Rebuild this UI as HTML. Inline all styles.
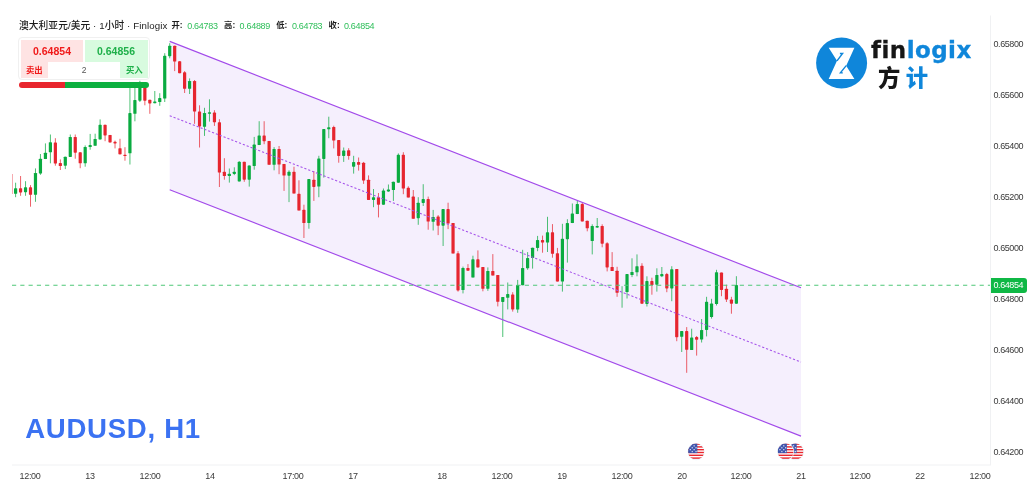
<!DOCTYPE html>
<html><head><meta charset="utf-8"><title>AUDUSD H1</title>
<style>
html,body{margin:0;padding:0;background:#fff;}
body{width:1032px;height:499px;position:relative;overflow:hidden;font-family:"Liberation Sans","Noto Sans CJK SC",sans-serif;}
#chart{position:absolute;left:0;top:0}
.yl{position:absolute;left:993.5px;font-size:9px;line-height:13px;height:13px;color:#3a3a3a;letter-spacing:-0.42px;white-space:nowrap}
.xl{position:absolute;top:469.8px;width:40px;text-align:center;font-size:9px;line-height:13px;color:#3a3a3a;letter-spacing:-0.35px;white-space:nowrap}
.lg{position:absolute;top:19.1px;font-size:9.7px;line-height:13px;color:#1c1c1c;font-weight:500;white-space:nowrap;letter-spacing:0.1px}
.lg.k{font-size:8.3px;top:19.4px;letter-spacing:0;font-weight:bold}
.lg.v{font-weight:normal;color:#2fbf5a;font-size:9px;letter-spacing:-0.3px;top:19.5px}
#tag{position:absolute;left:990.5px;top:277.7px;width:36px;height:15.3px;background:#0fb845;border-radius:0 3px 3px 0;color:#fff;font-size:9px;line-height:15.3px;letter-spacing:-0.42px;text-indent:3px;white-space:nowrap}
#title{position:absolute;left:25.2px;top:412.5px;font-size:27.6px;line-height:32px;font-weight:bold;color:#3b72f2;white-space:nowrap;letter-spacing:0.7px}
#wd{position:absolute;left:18px;top:37px;width:130px;height:41px;border:1px solid #f0f0f0;border-radius:4px;background:#fff;box-sizing:content-box}
#wd .s{position:absolute;left:2px;top:2px;width:62.3px;height:38px;background:#fee3e3}
#wd .b{position:absolute;left:65.7px;top:2px;width:63.3px;height:38px;background:#d8fbdf}
#wd .q{position:absolute;left:29px;top:24px;width:72px;height:16px;background:#fff;text-align:center;font-size:8.5px;line-height:16px;color:#555}
#wd .ps{position:absolute;left:1.5px;top:6.3px;width:63px;text-align:center;font-size:10.5px;font-weight:bold;color:#f01a1a;line-height:14px}
#wd .pb{position:absolute;left:65.5px;top:6.3px;width:63px;text-align:center;font-size:10.5px;font-weight:bold;color:#1fb04a;line-height:14px}
#wd .ls{position:absolute;left:7px;top:26px;font-size:8.4px;font-weight:bold;color:#f01a1a;line-height:13px}
#wd .lb{position:absolute;left:107px;top:26px;font-size:8.4px;font-weight:bold;color:#1fb04a;line-height:13px}
#bar{position:absolute;left:19px;top:82.2px;width:130px;height:5.6px;border-radius:3px;background:linear-gradient(to right,#e8262e 0,#e8262e 46px,#0cb03f 46px);}
#logo-t{position:absolute;left:871px;top:35.3px;font-family:"DejaVu Sans","Liberation Sans",sans-serif;font-weight:bold;font-size:23px;line-height:30px;letter-spacing:0.45px;-webkit-text-stroke:0.3px currentColor;white-space:nowrap;color:#161616}
#logo-t b{color:#0f86da;font-weight:bold}
#logo-c{position:absolute;left:878px;top:60.3px;font-family:"Noto Sans CJK SC","Liberation Sans",sans-serif;font-weight:900;font-size:22.3px;line-height:32px;white-space:nowrap;color:#161616;letter-spacing:5.5px}
#logo-c b{color:#0f86da;font-weight:900}
</style></head><body>
<svg id="chart" width="1032" height="499" viewBox="0 0 1032 499">
<polygon points="169.7,41.4 801.0,287.80 801.0,436.10 169.7,189.7" fill="#f5effd"/>
<rect x="12" y="174" width="0.7" height="20" fill="#e6252f" opacity="0.55"/>
<rect x="15.10" y="182.7" width="1" height="14.5" fill="#0aab40" opacity="0.72"/>
<rect x="20.07" y="176.0" width="1" height="19.8" fill="#e6252f" opacity="0.72"/>
<rect x="25.04" y="181.2" width="1" height="14.6" fill="#0aab40" opacity="0.72"/>
<rect x="30.01" y="185.1" width="1" height="21.6" fill="#e6252f" opacity="0.72"/>
<rect x="34.98" y="168.4" width="1" height="33.4" fill="#0aab40" opacity="0.72"/>
<rect x="39.95" y="154.0" width="1" height="20.8" fill="#0aab40" opacity="0.72"/>
<rect x="44.93" y="143.4" width="1" height="15.7" fill="#0aab40" opacity="0.72"/>
<rect x="49.90" y="134.5" width="1" height="28.8" fill="#0aab40" opacity="0.72"/>
<rect x="54.87" y="138.2" width="1" height="27.5" fill="#e6252f" opacity="0.72"/>
<rect x="59.84" y="159.4" width="1" height="10.6" fill="#e6252f" opacity="0.72"/>
<rect x="64.81" y="156.7" width="1" height="12.4" fill="#0aab40" opacity="0.72"/>
<rect x="69.78" y="134.5" width="1" height="22.4" fill="#0aab40" opacity="0.72"/>
<rect x="74.75" y="134.5" width="1" height="24.2" fill="#e6252f" opacity="0.72"/>
<rect x="79.72" y="152.3" width="1" height="15.9" fill="#e6252f" opacity="0.72"/>
<rect x="84.69" y="145.4" width="1" height="21.3" fill="#0aab40" opacity="0.72"/>
<rect x="89.66" y="133.9" width="1" height="15.8" fill="#0aab40" opacity="0.72"/>
<rect x="94.64" y="133.7" width="1" height="12.1" fill="#0aab40" opacity="0.72"/>
<rect x="99.61" y="119.4" width="1" height="20.0" fill="#0aab40" opacity="0.72"/>
<rect x="104.58" y="124.8" width="1" height="16.4" fill="#e6252f" opacity="0.72"/>
<rect x="109.55" y="134.9" width="1" height="7.5" fill="#e6252f" opacity="0.72"/>
<rect x="114.52" y="140.6" width="1" height="7.8" fill="#e6252f" opacity="0.72"/>
<rect x="119.49" y="138.8" width="1" height="15.8" fill="#e6252f" opacity="0.72"/>
<rect x="124.46" y="147.2" width="1" height="13.5" fill="#e6252f" opacity="0.72"/>
<rect x="129.43" y="86.0" width="1" height="78.5" fill="#0aab40" opacity="0.72"/>
<rect x="134.40" y="86.0" width="1" height="35.3" fill="#0aab40" opacity="0.72"/>
<rect x="139.38" y="80.8" width="1" height="21.2" fill="#0aab40" opacity="0.72"/>
<rect x="144.35" y="86.0" width="1" height="19.3" fill="#e6252f" opacity="0.72"/>
<rect x="149.32" y="99.8" width="1" height="14.0" fill="#e6252f" opacity="0.72"/>
<rect x="154.29" y="91.0" width="1" height="12.2" fill="#0aab40" opacity="0.72"/>
<rect x="159.26" y="93.2" width="1" height="12.6" fill="#0aab40" opacity="0.72"/>
<rect x="164.23" y="53.2" width="1" height="48.8" fill="#0aab40" opacity="0.72"/>
<rect x="169.20" y="43.2" width="1" height="15.1" fill="#0aab40" opacity="0.72"/>
<rect x="174.17" y="45.7" width="1" height="25.4" fill="#e6252f" opacity="0.72"/>
<rect x="179.14" y="61.0" width="1" height="12.2" fill="#e6252f" opacity="0.72"/>
<rect x="184.11" y="71.1" width="1" height="21.9" fill="#e6252f" opacity="0.72"/>
<rect x="189.09" y="78.4" width="1" height="15.6" fill="#0aab40" opacity="0.72"/>
<rect x="194.06" y="80.0" width="1" height="43.8" fill="#e6252f" opacity="0.72"/>
<rect x="199.03" y="105.3" width="1" height="42.2" fill="#e6252f" opacity="0.72"/>
<rect x="204.00" y="107.8" width="1" height="28.1" fill="#0aab40" opacity="0.72"/>
<rect x="208.97" y="99.3" width="1" height="22.3" fill="#0aab40" opacity="0.72"/>
<rect x="213.94" y="110.2" width="1" height="15.7" fill="#e6252f" opacity="0.72"/>
<rect x="218.91" y="119.2" width="1" height="67.8" fill="#e6252f" opacity="0.72"/>
<rect x="223.88" y="158.2" width="1" height="21.5" fill="#e6252f" opacity="0.72"/>
<rect x="228.85" y="168.5" width="1" height="14.1" fill="#0aab40" opacity="0.72"/>
<rect x="233.82" y="167.3" width="1" height="7.8" fill="#0aab40" opacity="0.72"/>
<rect x="238.79" y="161.2" width="1" height="20.2" fill="#0aab40" opacity="0.72"/>
<rect x="243.77" y="161.8" width="1" height="20.0" fill="#e6252f" opacity="0.72"/>
<rect x="248.74" y="165.4" width="1" height="21.2" fill="#0aab40" opacity="0.72"/>
<rect x="253.71" y="136.9" width="1" height="32.8" fill="#0aab40" opacity="0.72"/>
<rect x="258.68" y="121.2" width="1" height="23.9" fill="#0aab40" opacity="0.72"/>
<rect x="263.65" y="121.2" width="1" height="23.0" fill="#e6252f" opacity="0.72"/>
<rect x="268.62" y="140.9" width="1" height="23.9" fill="#e6252f" opacity="0.72"/>
<rect x="273.59" y="147.1" width="1" height="23.2" fill="#0aab40" opacity="0.72"/>
<rect x="278.56" y="146.0" width="1" height="28.2" fill="#e6252f" opacity="0.72"/>
<rect x="283.53" y="163.9" width="1" height="27.0" fill="#e6252f" opacity="0.72"/>
<rect x="288.51" y="170.3" width="1" height="31.8" fill="#0aab40" opacity="0.72"/>
<rect x="293.48" y="166.7" width="1" height="26.9" fill="#e6252f" opacity="0.72"/>
<rect x="298.45" y="180.3" width="1" height="30.2" fill="#e6252f" opacity="0.72"/>
<rect x="303.42" y="204.7" width="1" height="33.3" fill="#e6252f" opacity="0.72"/>
<rect x="308.39" y="179.1" width="1" height="49.6" fill="#0aab40" opacity="0.72"/>
<rect x="313.36" y="171.2" width="1" height="29.7" fill="#e6252f" opacity="0.72"/>
<rect x="318.33" y="155.8" width="1" height="41.4" fill="#0aab40" opacity="0.72"/>
<rect x="323.30" y="129.1" width="1" height="48.5" fill="#0aab40" opacity="0.72"/>
<rect x="328.27" y="116.7" width="1" height="21.5" fill="#0aab40" opacity="0.72"/>
<rect x="333.24" y="125.7" width="1" height="22.7" fill="#e6252f" opacity="0.72"/>
<rect x="338.22" y="140.0" width="1" height="22.7" fill="#e6252f" opacity="0.72"/>
<rect x="343.19" y="147.5" width="1" height="14.4" fill="#0aab40" opacity="0.72"/>
<rect x="348.16" y="148.2" width="1" height="11.5" fill="#e6252f" opacity="0.72"/>
<rect x="353.13" y="155.8" width="1" height="17.8" fill="#0aab40" opacity="0.72"/>
<rect x="358.10" y="157.5" width="1" height="13.1" fill="#e6252f" opacity="0.72"/>
<rect x="363.07" y="161.9" width="1" height="22.0" fill="#e6252f" opacity="0.72"/>
<rect x="368.04" y="175.4" width="1" height="24.5" fill="#e6252f" opacity="0.72"/>
<rect x="373.01" y="189.0" width="1" height="18.2" fill="#0aab40" opacity="0.72"/>
<rect x="377.98" y="193.0" width="1" height="24.4" fill="#e6252f" opacity="0.72"/>
<rect x="382.95" y="188.5" width="1" height="16.2" fill="#0aab40" opacity="0.72"/>
<rect x="387.93" y="184.5" width="1" height="7.3" fill="#0aab40" opacity="0.72"/>
<rect x="392.90" y="181.7" width="1" height="19.2" fill="#0aab40" opacity="0.72"/>
<rect x="397.87" y="153.4" width="1" height="29.3" fill="#0aab40" opacity="0.72"/>
<rect x="402.84" y="152.2" width="1" height="42.0" fill="#e6252f" opacity="0.72"/>
<rect x="407.81" y="186.3" width="1" height="11.2" fill="#e6252f" opacity="0.72"/>
<rect x="412.78" y="190.0" width="1" height="28.8" fill="#e6252f" opacity="0.72"/>
<rect x="417.75" y="197.2" width="1" height="27.6" fill="#0aab40" opacity="0.72"/>
<rect x="422.72" y="184.2" width="1" height="21.8" fill="#0aab40" opacity="0.72"/>
<rect x="427.69" y="196.6" width="1" height="33.1" fill="#e6252f" opacity="0.72"/>
<rect x="432.66" y="209.9" width="1" height="20.6" fill="#0aab40" opacity="0.72"/>
<rect x="437.64" y="215.1" width="1" height="20.0" fill="#e6252f" opacity="0.72"/>
<rect x="442.61" y="209.1" width="1" height="36.9" fill="#0aab40" opacity="0.72"/>
<rect x="447.58" y="202.7" width="1" height="26.4" fill="#e6252f" opacity="0.72"/>
<rect x="452.55" y="223.0" width="1" height="30.5" fill="#e6252f" opacity="0.72"/>
<rect x="457.52" y="251.1" width="1" height="40.5" fill="#e6252f" opacity="0.72"/>
<rect x="462.49" y="266.6" width="1" height="26.8" fill="#0aab40" opacity="0.72"/>
<rect x="467.46" y="264.1" width="1" height="6.6" fill="#e6252f" opacity="0.72"/>
<rect x="472.43" y="255.7" width="1" height="21.8" fill="#0aab40" opacity="0.72"/>
<rect x="477.40" y="250.4" width="1" height="17.0" fill="#e6252f" opacity="0.72"/>
<rect x="482.37" y="267.0" width="1" height="24.3" fill="#e6252f" opacity="0.72"/>
<rect x="487.35" y="267.4" width="1" height="23.4" fill="#0aab40" opacity="0.72"/>
<rect x="492.32" y="254.1" width="1" height="21.4" fill="#e6252f" opacity="0.72"/>
<rect x="497.29" y="275.0" width="1" height="31.4" fill="#e6252f" opacity="0.72"/>
<rect x="502.26" y="297.0" width="1" height="40.0" fill="#0aab40" opacity="0.72"/>
<rect x="507.23" y="282.5" width="1" height="26.9" fill="#0aab40" opacity="0.72"/>
<rect x="512.20" y="292.2" width="1" height="19.4" fill="#e6252f" opacity="0.72"/>
<rect x="517.17" y="279.9" width="1" height="32.9" fill="#0aab40" opacity="0.72"/>
<rect x="522.14" y="249.8" width="1" height="35.4" fill="#0aab40" opacity="0.72"/>
<rect x="527.11" y="252.1" width="1" height="17.7" fill="#0aab40" opacity="0.72"/>
<rect x="532.08" y="247.7" width="1" height="20.9" fill="#0aab40" opacity="0.72"/>
<rect x="537.06" y="235.9" width="1" height="15.3" fill="#0aab40" opacity="0.72"/>
<rect x="542.03" y="235.6" width="1" height="17.1" fill="#e6252f" opacity="0.72"/>
<rect x="547.00" y="216.8" width="1" height="35.2" fill="#0aab40" opacity="0.72"/>
<rect x="551.97" y="224.1" width="1" height="33.6" fill="#e6252f" opacity="0.72"/>
<rect x="556.94" y="247.9" width="1" height="33.7" fill="#e6252f" opacity="0.72"/>
<rect x="561.91" y="223.8" width="1" height="67.8" fill="#0aab40" opacity="0.72"/>
<rect x="566.88" y="219.2" width="1" height="43.4" fill="#0aab40" opacity="0.72"/>
<rect x="571.85" y="203.5" width="1" height="19.6" fill="#0aab40" opacity="0.72"/>
<rect x="576.82" y="200.8" width="1" height="13.3" fill="#0aab40" opacity="0.72"/>
<rect x="581.79" y="202.3" width="1" height="19.1" fill="#e6252f" opacity="0.72"/>
<rect x="586.76" y="220.7" width="1" height="10.6" fill="#e6252f" opacity="0.72"/>
<rect x="591.74" y="224.3" width="1" height="30.1" fill="#0aab40" opacity="0.72"/>
<rect x="596.71" y="218.0" width="1" height="10.0" fill="#0aab40" opacity="0.72"/>
<rect x="601.68" y="224.3" width="1" height="23.0" fill="#e6252f" opacity="0.72"/>
<rect x="606.65" y="242.2" width="1" height="29.2" fill="#e6252f" opacity="0.72"/>
<rect x="611.62" y="252.1" width="1" height="18.9" fill="#e6252f" opacity="0.72"/>
<rect x="616.59" y="266.8" width="1" height="30.0" fill="#e6252f" opacity="0.72"/>
<rect x="621.56" y="286.2" width="1" height="21.5" fill="#0aab40" opacity="0.72"/>
<rect x="626.53" y="274.1" width="1" height="24.4" fill="#0aab40" opacity="0.72"/>
<rect x="631.50" y="258.3" width="1" height="18.8" fill="#0aab40" opacity="0.72"/>
<rect x="636.48" y="254.4" width="1" height="21.9" fill="#0aab40" opacity="0.72"/>
<rect x="641.45" y="263.2" width="1" height="40.5" fill="#e6252f" opacity="0.72"/>
<rect x="646.42" y="276.3" width="1" height="30.2" fill="#0aab40" opacity="0.72"/>
<rect x="651.39" y="277.7" width="1" height="17.0" fill="#e6252f" opacity="0.72"/>
<rect x="656.36" y="268.3" width="1" height="23.3" fill="#0aab40" opacity="0.72"/>
<rect x="661.33" y="267.0" width="1" height="10.1" fill="#0aab40" opacity="0.72"/>
<rect x="666.30" y="272.9" width="1" height="19.3" fill="#e6252f" opacity="0.72"/>
<rect x="671.27" y="266.2" width="1" height="35.0" fill="#0aab40" opacity="0.72"/>
<rect x="676.24" y="269.0" width="1" height="72.2" fill="#e6252f" opacity="0.72"/>
<rect x="681.21" y="331.1" width="1" height="20.9" fill="#0aab40" opacity="0.72"/>
<rect x="686.19" y="327.1" width="1" height="45.7" fill="#e6252f" opacity="0.72"/>
<rect x="691.16" y="328.7" width="1" height="21.3" fill="#0aab40" opacity="0.72"/>
<rect x="696.13" y="336.0" width="1" height="19.6" fill="#e6252f" opacity="0.72"/>
<rect x="701.10" y="319.0" width="1" height="23.5" fill="#0aab40" opacity="0.72"/>
<rect x="706.07" y="296.8" width="1" height="39.6" fill="#0aab40" opacity="0.72"/>
<rect x="711.04" y="298.8" width="1" height="19.8" fill="#0aab40" opacity="0.72"/>
<rect x="716.01" y="269.8" width="1" height="35.7" fill="#0aab40" opacity="0.72"/>
<rect x="720.98" y="272.6" width="1" height="23.6" fill="#e6252f" opacity="0.72"/>
<rect x="725.95" y="284.7" width="1" height="17.3" fill="#e6252f" opacity="0.72"/>
<rect x="730.92" y="296.8" width="1" height="16.9" fill="#e6252f" opacity="0.72"/>
<rect x="735.89" y="276.2" width="1" height="27.5" fill="#0aab40" opacity="0.72"/>
<rect x="14.00" y="188.2" width="3.2" height="5.6" rx="0.6" fill="#0aab40"/>
<rect x="18.97" y="188.2" width="3.2" height="4.2" rx="0.6" fill="#e6252f"/>
<rect x="23.94" y="187.3" width="3.2" height="4.9" rx="0.6" fill="#0aab40"/>
<rect x="28.91" y="187.3" width="3.2" height="7.5" rx="0.6" fill="#e6252f"/>
<rect x="33.88" y="173.0" width="3.2" height="21.8" rx="0.6" fill="#0aab40"/>
<rect x="38.85" y="158.7" width="3.2" height="14.9" rx="0.6" fill="#0aab40"/>
<rect x="43.83" y="152.7" width="3.2" height="6.4" rx="0.6" fill="#0aab40"/>
<rect x="48.80" y="142.2" width="3.2" height="10.1" rx="0.6" fill="#0aab40"/>
<rect x="53.77" y="142.4" width="3.2" height="21.2" rx="0.6" fill="#e6252f"/>
<rect x="58.74" y="163.1" width="3.2" height="2.9" rx="0.6" fill="#e6252f"/>
<rect x="63.71" y="156.7" width="3.2" height="9.0" rx="0.6" fill="#0aab40"/>
<rect x="68.68" y="136.9" width="3.2" height="20.0" rx="0.6" fill="#0aab40"/>
<rect x="73.65" y="136.9" width="3.2" height="15.8" rx="0.6" fill="#e6252f"/>
<rect x="78.62" y="152.3" width="3.2" height="11.0" rx="0.6" fill="#e6252f"/>
<rect x="83.59" y="147.0" width="3.2" height="16.3" rx="0.6" fill="#0aab40"/>
<rect x="88.56" y="145.1" width="3.2" height="1.9" rx="0.6" fill="#0aab40"/>
<rect x="93.54" y="139.0" width="3.2" height="6.8" rx="0.6" fill="#0aab40"/>
<rect x="98.51" y="124.8" width="3.2" height="14.6" rx="0.6" fill="#0aab40"/>
<rect x="103.48" y="124.8" width="3.2" height="10.6" rx="0.6" fill="#e6252f"/>
<rect x="108.45" y="134.9" width="3.2" height="7.5" rx="0.6" fill="#e6252f"/>
<rect x="113.42" y="141.8" width="3.2" height="1.6" rx="0.6" fill="#e6252f"/>
<rect x="118.39" y="148.2" width="3.2" height="6.1" rx="0.6" fill="#e6252f"/>
<rect x="123.36" y="154.7" width="3.2" height="1.3" rx="0.6" fill="#e6252f"/>
<rect x="128.33" y="113.1" width="3.2" height="40.2" rx="0.6" fill="#0aab40"/>
<rect x="133.30" y="100.1" width="3.2" height="13.7" rx="0.6" fill="#0aab40"/>
<rect x="138.28" y="87.0" width="3.2" height="13.7" rx="0.6" fill="#0aab40"/>
<rect x="143.25" y="87.0" width="3.2" height="13.7" rx="0.6" fill="#e6252f"/>
<rect x="148.22" y="99.8" width="3.2" height="3.6" rx="0.6" fill="#e6252f"/>
<rect x="153.19" y="101.4" width="3.2" height="1.8" rx="0.6" fill="#0aab40"/>
<rect x="158.16" y="98.1" width="3.2" height="3.9" rx="0.6" fill="#0aab40"/>
<rect x="163.13" y="55.8" width="3.2" height="42.8" rx="0.6" fill="#0aab40"/>
<rect x="168.10" y="45.7" width="3.2" height="10.5" rx="0.6" fill="#0aab40"/>
<rect x="173.07" y="45.7" width="3.2" height="15.8" rx="0.6" fill="#e6252f"/>
<rect x="178.04" y="61.2" width="3.2" height="12.0" rx="0.6" fill="#e6252f"/>
<rect x="183.01" y="72.3" width="3.2" height="16.5" rx="0.6" fill="#e6252f"/>
<rect x="187.99" y="81.0" width="3.2" height="7.8" rx="0.6" fill="#0aab40"/>
<rect x="192.96" y="81.0" width="3.2" height="30.6" rx="0.6" fill="#e6252f"/>
<rect x="197.93" y="111.4" width="3.2" height="15.0" rx="0.6" fill="#e6252f"/>
<rect x="202.90" y="112.9" width="3.2" height="13.9" rx="0.6" fill="#0aab40"/>
<rect x="207.87" y="112.3" width="3.2" height="1.5" rx="0.6" fill="#0aab40"/>
<rect x="212.84" y="112.6" width="3.2" height="9.7" rx="0.6" fill="#e6252f"/>
<rect x="217.81" y="122.3" width="3.2" height="50.2" rx="0.6" fill="#e6252f"/>
<rect x="222.78" y="171.7" width="3.2" height="4.4" rx="0.6" fill="#e6252f"/>
<rect x="227.75" y="173.7" width="3.2" height="2.4" rx="0.6" fill="#0aab40"/>
<rect x="232.72" y="171.7" width="3.2" height="2.2" rx="0.6" fill="#0aab40"/>
<rect x="237.69" y="161.8" width="3.2" height="19.6" rx="0.6" fill="#0aab40"/>
<rect x="242.67" y="161.8" width="3.2" height="17.9" rx="0.6" fill="#e6252f"/>
<rect x="247.64" y="165.4" width="3.2" height="14.3" rx="0.6" fill="#0aab40"/>
<rect x="252.61" y="144.6" width="3.2" height="21.4" rx="0.6" fill="#0aab40"/>
<rect x="257.58" y="135.4" width="3.2" height="9.7" rx="0.6" fill="#0aab40"/>
<rect x="262.55" y="135.4" width="3.2" height="5.8" rx="0.6" fill="#e6252f"/>
<rect x="267.52" y="140.9" width="3.2" height="23.9" rx="0.6" fill="#e6252f"/>
<rect x="272.49" y="149.0" width="3.2" height="15.8" rx="0.6" fill="#0aab40"/>
<rect x="277.46" y="149.0" width="3.2" height="15.6" rx="0.6" fill="#e6252f"/>
<rect x="282.43" y="164.0" width="3.2" height="11.6" rx="0.6" fill="#e6252f"/>
<rect x="287.41" y="171.8" width="3.2" height="3.9" rx="0.6" fill="#0aab40"/>
<rect x="292.38" y="171.8" width="3.2" height="21.8" rx="0.6" fill="#e6252f"/>
<rect x="297.35" y="193.8" width="3.2" height="16.7" rx="0.6" fill="#e6252f"/>
<rect x="302.32" y="209.8" width="3.2" height="13.3" rx="0.6" fill="#e6252f"/>
<rect x="307.29" y="179.1" width="3.2" height="44.0" rx="0.6" fill="#0aab40"/>
<rect x="312.26" y="179.7" width="3.2" height="7.2" rx="0.6" fill="#e6252f"/>
<rect x="317.23" y="158.5" width="3.2" height="28.1" rx="0.6" fill="#0aab40"/>
<rect x="322.20" y="129.1" width="3.2" height="29.8" rx="0.6" fill="#0aab40"/>
<rect x="327.17" y="127.3" width="3.2" height="2.0" rx="0.6" fill="#0aab40"/>
<rect x="332.14" y="126.9" width="3.2" height="13.7" rx="0.6" fill="#e6252f"/>
<rect x="337.12" y="140.0" width="3.2" height="15.9" rx="0.6" fill="#e6252f"/>
<rect x="342.09" y="150.6" width="3.2" height="5.3" rx="0.6" fill="#0aab40"/>
<rect x="347.06" y="150.3" width="3.2" height="5.6" rx="0.6" fill="#e6252f"/>
<rect x="352.03" y="162.1" width="3.2" height="4.6" rx="0.6" fill="#0aab40"/>
<rect x="357.00" y="162.1" width="3.2" height="2.7" rx="0.6" fill="#e6252f"/>
<rect x="361.97" y="162.7" width="3.2" height="17.8" rx="0.6" fill="#e6252f"/>
<rect x="366.94" y="179.7" width="3.2" height="20.2" rx="0.6" fill="#e6252f"/>
<rect x="371.91" y="197.2" width="3.2" height="2.7" rx="0.6" fill="#0aab40"/>
<rect x="376.88" y="197.2" width="3.2" height="7.5" rx="0.6" fill="#e6252f"/>
<rect x="381.85" y="190.6" width="3.2" height="14.1" rx="0.6" fill="#0aab40"/>
<rect x="386.82" y="189.4" width="3.2" height="2.0" rx="0.6" fill="#0aab40"/>
<rect x="391.80" y="181.7" width="3.2" height="8.3" rx="0.6" fill="#0aab40"/>
<rect x="396.77" y="154.8" width="3.2" height="27.9" rx="0.6" fill="#0aab40"/>
<rect x="401.74" y="154.8" width="3.2" height="33.7" rx="0.6" fill="#e6252f"/>
<rect x="406.71" y="187.8" width="3.2" height="9.7" rx="0.6" fill="#e6252f"/>
<rect x="411.68" y="196.6" width="3.2" height="22.2" rx="0.6" fill="#e6252f"/>
<rect x="416.65" y="202.7" width="3.2" height="15.5" rx="0.6" fill="#0aab40"/>
<rect x="421.62" y="199.1" width="3.2" height="3.8" rx="0.6" fill="#0aab40"/>
<rect x="426.59" y="199.1" width="3.2" height="22.5" rx="0.6" fill="#e6252f"/>
<rect x="431.56" y="217.0" width="3.2" height="4.8" rx="0.6" fill="#0aab40"/>
<rect x="436.54" y="216.4" width="3.2" height="9.3" rx="0.6" fill="#e6252f"/>
<rect x="441.51" y="209.1" width="3.2" height="16.6" rx="0.6" fill="#0aab40"/>
<rect x="446.48" y="209.1" width="3.2" height="14.5" rx="0.6" fill="#e6252f"/>
<rect x="451.45" y="223.0" width="3.2" height="30.5" rx="0.6" fill="#e6252f"/>
<rect x="456.42" y="253.3" width="3.2" height="37.1" rx="0.6" fill="#e6252f"/>
<rect x="461.39" y="268.0" width="3.2" height="22.1" rx="0.6" fill="#0aab40"/>
<rect x="466.36" y="268.0" width="3.2" height="2.7" rx="0.6" fill="#e6252f"/>
<rect x="471.33" y="259.3" width="3.2" height="18.2" rx="0.6" fill="#0aab40"/>
<rect x="476.30" y="259.3" width="3.2" height="8.1" rx="0.6" fill="#e6252f"/>
<rect x="481.27" y="267.0" width="3.2" height="21.8" rx="0.6" fill="#e6252f"/>
<rect x="486.25" y="271.0" width="3.2" height="17.8" rx="0.6" fill="#0aab40"/>
<rect x="491.22" y="271.0" width="3.2" height="4.5" rx="0.6" fill="#e6252f"/>
<rect x="496.19" y="275.0" width="3.2" height="26.8" rx="0.6" fill="#e6252f"/>
<rect x="501.16" y="297.0" width="3.2" height="4.9" rx="0.6" fill="#0aab40"/>
<rect x="506.13" y="294.1" width="3.2" height="3.7" rx="0.6" fill="#0aab40"/>
<rect x="511.10" y="294.5" width="3.2" height="14.9" rx="0.6" fill="#e6252f"/>
<rect x="516.07" y="285.0" width="3.2" height="24.6" rx="0.6" fill="#0aab40"/>
<rect x="521.04" y="268.0" width="3.2" height="17.2" rx="0.6" fill="#0aab40"/>
<rect x="526.01" y="258.1" width="3.2" height="10.2" rx="0.6" fill="#0aab40"/>
<rect x="530.98" y="247.7" width="3.2" height="10.4" rx="0.6" fill="#0aab40"/>
<rect x="535.96" y="240.1" width="3.2" height="7.8" rx="0.6" fill="#0aab40"/>
<rect x="540.93" y="240.1" width="3.2" height="2.4" rx="0.6" fill="#e6252f"/>
<rect x="545.90" y="232.3" width="3.2" height="10.2" rx="0.6" fill="#0aab40"/>
<rect x="550.87" y="232.3" width="3.2" height="21.5" rx="0.6" fill="#e6252f"/>
<rect x="555.84" y="253.2" width="3.2" height="28.4" rx="0.6" fill="#e6252f"/>
<rect x="560.81" y="238.8" width="3.2" height="42.8" rx="0.6" fill="#0aab40"/>
<rect x="565.78" y="223.1" width="3.2" height="16.1" rx="0.6" fill="#0aab40"/>
<rect x="570.75" y="213.4" width="3.2" height="9.7" rx="0.6" fill="#0aab40"/>
<rect x="575.72" y="204.1" width="3.2" height="10.0" rx="0.6" fill="#0aab40"/>
<rect x="580.69" y="204.1" width="3.2" height="17.3" rx="0.6" fill="#e6252f"/>
<rect x="585.66" y="220.7" width="3.2" height="7.6" rx="0.6" fill="#e6252f"/>
<rect x="590.64" y="225.9" width="3.2" height="15.1" rx="0.6" fill="#0aab40"/>
<rect x="595.61" y="225.9" width="3.2" height="1.6" rx="0.6" fill="#0aab40"/>
<rect x="600.58" y="225.9" width="3.2" height="17.8" rx="0.6" fill="#e6252f"/>
<rect x="605.55" y="243.2" width="3.2" height="24.2" rx="0.6" fill="#e6252f"/>
<rect x="610.52" y="267.0" width="3.2" height="4.0" rx="0.6" fill="#e6252f"/>
<rect x="615.49" y="270.7" width="3.2" height="22.1" rx="0.6" fill="#e6252f"/>
<rect x="625.43" y="274.1" width="3.2" height="17.9" rx="0.6" fill="#0aab40"/>
<rect x="630.40" y="271.9" width="3.2" height="3.1" rx="0.6" fill="#0aab40"/>
<rect x="635.38" y="266.2" width="3.2" height="6.1" rx="0.6" fill="#0aab40"/>
<rect x="640.35" y="265.8" width="3.2" height="37.9" rx="0.6" fill="#e6252f"/>
<rect x="645.32" y="281.1" width="3.2" height="22.8" rx="0.6" fill="#0aab40"/>
<rect x="650.29" y="281.1" width="3.2" height="3.9" rx="0.6" fill="#e6252f"/>
<rect x="655.26" y="275.0" width="3.2" height="9.7" rx="0.6" fill="#0aab40"/>
<rect x="660.23" y="274.1" width="3.2" height="2.2" rx="0.6" fill="#0aab40"/>
<rect x="665.20" y="274.1" width="3.2" height="14.3" rx="0.6" fill="#e6252f"/>
<rect x="670.17" y="269.2" width="3.2" height="19.2" rx="0.6" fill="#0aab40"/>
<rect x="675.14" y="269.0" width="3.2" height="68.2" rx="0.6" fill="#e6252f"/>
<rect x="680.11" y="331.1" width="3.2" height="5.7" rx="0.6" fill="#0aab40"/>
<rect x="685.09" y="331.1" width="3.2" height="18.7" rx="0.6" fill="#e6252f"/>
<rect x="690.06" y="337.4" width="3.2" height="12.6" rx="0.6" fill="#0aab40"/>
<rect x="695.03" y="337.1" width="3.2" height="2.6" rx="0.6" fill="#e6252f"/>
<rect x="700.00" y="329.9" width="3.2" height="9.7" rx="0.6" fill="#0aab40"/>
<rect x="704.97" y="301.8" width="3.2" height="28.1" rx="0.6" fill="#0aab40"/>
<rect x="709.94" y="303.6" width="3.2" height="13.4" rx="0.6" fill="#0aab40"/>
<rect x="714.91" y="272.2" width="3.2" height="31.9" rx="0.6" fill="#0aab40"/>
<rect x="719.88" y="272.6" width="3.2" height="17.3" rx="0.6" fill="#e6252f"/>
<rect x="724.85" y="288.7" width="3.2" height="10.9" rx="0.6" fill="#e6252f"/>
<rect x="729.82" y="299.6" width="3.2" height="4.1" rx="0.6" fill="#e6252f"/>
<rect x="734.79" y="285.0" width="3.2" height="18.7" rx="0.6" fill="#0aab40"/>
<line x1="169.7" y1="115.65" x2="801.0" y2="362.05" stroke="#a552ea" stroke-width="1.05" stroke-dasharray="2.2 1.93"/>
<line x1="169.7" y1="41.4" x2="801.0" y2="287.80" stroke="#a24aea" stroke-width="1.15"/>
<line x1="169.7" y1="189.7" x2="801.0" y2="436.10" stroke="#a24aea" stroke-width="1.15"/>
<line x1="12" y1="285.3" x2="990" y2="285.3" stroke="#4fc878" stroke-width="1.1" stroke-dasharray="4.2 4.07"/>
<line x1="990.5" y1="15.5" x2="990.5" y2="465.5" stroke="#f0f1f3" stroke-width="1"/>
<line x1="12" y1="465" x2="990" y2="465" stroke="#f0f1f3" stroke-width="1"/>
<g><circle cx="795.5" cy="451.6" r="8.6" fill="#e6f5fb"/><clipPath id="f3"><circle cx="795.5" cy="451.6" r="8.0"/></clipPath><g clip-path="url(#f3)"><rect x="787.5" y="443.6" width="16.0" height="16.0" fill="#fff"/><rect x="787.5" y="443.40" width="16.0" height="1.4" fill="#e9252d"/><rect x="787.5" y="446.20" width="16.0" height="1.4" fill="#e9252d"/><rect x="787.5" y="449.00" width="16.0" height="1.4" fill="#e9252d"/><rect x="787.5" y="451.80" width="16.0" height="1.4" fill="#e9252d"/><rect x="787.5" y="454.60" width="16.0" height="1.4" fill="#e9252d"/><rect x="787.5" y="457.40" width="16.0" height="1.4" fill="#e9252d"/><rect x="787.5" y="443.6" width="9.2" height="9.5" fill="#3f55ad"/><rect x="789.10" y="445.20" width="1.3" height="1.3" fill="#fff" opacity="0.75"/><rect x="792.90" y="445.20" width="1.3" height="1.3" fill="#fff" opacity="0.75"/><rect x="791.00" y="447.10" width="1.3" height="1.3" fill="#fff" opacity="0.75"/><rect x="794.80" y="447.10" width="1.3" height="1.3" fill="#fff" opacity="0.75"/><rect x="789.10" y="449.00" width="1.3" height="1.3" fill="#fff" opacity="0.75"/><rect x="792.90" y="449.00" width="1.3" height="1.3" fill="#fff" opacity="0.75"/><rect x="791.00" y="450.90" width="1.3" height="1.3" fill="#fff" opacity="0.75"/><rect x="794.80" y="450.90" width="1.3" height="1.3" fill="#fff" opacity="0.75"/></g></g><g><circle cx="785.7" cy="451.6" r="8.6" fill="#e6f5fb"/><clipPath id="f2"><circle cx="785.7" cy="451.6" r="8.0"/></clipPath><g clip-path="url(#f2)"><rect x="777.7" y="443.6" width="16.0" height="16.0" fill="#fff"/><rect x="777.7" y="443.40" width="16.0" height="1.4" fill="#e9252d"/><rect x="777.7" y="446.20" width="16.0" height="1.4" fill="#e9252d"/><rect x="777.7" y="449.00" width="16.0" height="1.4" fill="#e9252d"/><rect x="777.7" y="451.80" width="16.0" height="1.4" fill="#e9252d"/><rect x="777.7" y="454.60" width="16.0" height="1.4" fill="#e9252d"/><rect x="777.7" y="457.40" width="16.0" height="1.4" fill="#e9252d"/><rect x="777.7" y="443.6" width="9.2" height="9.5" fill="#3f55ad"/><rect x="779.30" y="445.20" width="1.3" height="1.3" fill="#fff" opacity="0.75"/><rect x="783.10" y="445.20" width="1.3" height="1.3" fill="#fff" opacity="0.75"/><rect x="781.20" y="447.10" width="1.3" height="1.3" fill="#fff" opacity="0.75"/><rect x="785.00" y="447.10" width="1.3" height="1.3" fill="#fff" opacity="0.75"/><rect x="779.30" y="449.00" width="1.3" height="1.3" fill="#fff" opacity="0.75"/><rect x="783.10" y="449.00" width="1.3" height="1.3" fill="#fff" opacity="0.75"/><rect x="781.20" y="450.90" width="1.3" height="1.3" fill="#fff" opacity="0.75"/><rect x="785.00" y="450.90" width="1.3" height="1.3" fill="#fff" opacity="0.75"/></g></g><g><circle cx="696.1" cy="451.6" r="8.6" fill="#e6f5fb"/><clipPath id="f1"><circle cx="696.1" cy="451.6" r="8.0"/></clipPath><g clip-path="url(#f1)"><rect x="688.1" y="443.6" width="16.0" height="16.0" fill="#fff"/><rect x="688.1" y="443.40" width="16.0" height="1.4" fill="#e9252d"/><rect x="688.1" y="446.20" width="16.0" height="1.4" fill="#e9252d"/><rect x="688.1" y="449.00" width="16.0" height="1.4" fill="#e9252d"/><rect x="688.1" y="451.80" width="16.0" height="1.4" fill="#e9252d"/><rect x="688.1" y="454.60" width="16.0" height="1.4" fill="#e9252d"/><rect x="688.1" y="457.40" width="16.0" height="1.4" fill="#e9252d"/><rect x="688.1" y="443.6" width="9.2" height="9.5" fill="#3f55ad"/><rect x="689.70" y="445.20" width="1.3" height="1.3" fill="#fff" opacity="0.75"/><rect x="693.50" y="445.20" width="1.3" height="1.3" fill="#fff" opacity="0.75"/><rect x="691.60" y="447.10" width="1.3" height="1.3" fill="#fff" opacity="0.75"/><rect x="695.40" y="447.10" width="1.3" height="1.3" fill="#fff" opacity="0.75"/><rect x="689.70" y="449.00" width="1.3" height="1.3" fill="#fff" opacity="0.75"/><rect x="693.50" y="449.00" width="1.3" height="1.3" fill="#fff" opacity="0.75"/><rect x="691.60" y="450.90" width="1.3" height="1.3" fill="#fff" opacity="0.75"/><rect x="695.40" y="450.90" width="1.3" height="1.3" fill="#fff" opacity="0.75"/></g></g>
<circle cx="841.6" cy="63.05" r="25.5" fill="#0f86da"/>
<polygon points="828.7,47.7 854.4,47.7 846.2,65.8 854.4,78.9 828.7,78.9 837.0,60.7" fill="#fff"/>
<path d="M839.9,53.5 L842.6,53.5 L837.0,60.9 M846.2,65.6 L840.4,72.9 L842.8,72.9" fill="none" stroke="#0f86da" stroke-width="1.4" stroke-linejoin="miter"/>
</svg>
<div class="lg" style="left:19px">澳大利亚元/美元 · 1小时 · Finlogix</div>
<div class="lg k" style="left:171.5px">开:</div><div class="lg v" style="left:187.2px">0.64783</div>
<div class="lg k" style="left:224.1px">高:</div><div class="lg v" style="left:239.6px">0.64889</div>
<div class="lg k" style="left:276.2px">低:</div><div class="lg v" style="left:291.9px">0.64783</div>
<div class="lg k" style="left:328.6px">收:</div><div class="lg v" style="left:343.9px">0.64854</div>
<div id="wd"><div class="s"></div><div class="b"></div><div class="q">2</div><div class="ps">0.64854</div><div class="pb">0.64856</div><div class="ls">卖出</div><div class="lb">买入</div></div>
<div id="bar"></div>
<div class="yl" style="top:38.1px">0.65800</div><div class="yl" style="top:89.1px">0.65600</div><div class="yl" style="top:140.1px">0.65400</div><div class="yl" style="top:191.1px">0.65200</div><div class="yl" style="top:242.1px">0.65000</div><div class="yl" style="top:293.1px">0.64800</div><div class="yl" style="top:344.1px">0.64600</div><div class="yl" style="top:395.1px">0.64400</div><div class="yl" style="top:446.1px">0.64200</div>
<div class="xl" style="left:10px">12:00</div><div class="xl" style="left:70px">13</div><div class="xl" style="left:130px">12:00</div><div class="xl" style="left:190px">14</div><div class="xl" style="left:273px">17:00</div><div class="xl" style="left:333px">17</div><div class="xl" style="left:422px">18</div><div class="xl" style="left:482px">12:00</div><div class="xl" style="left:542px">19</div><div class="xl" style="left:602px">12:00</div><div class="xl" style="left:662px">20</div><div class="xl" style="left:721px">12:00</div><div class="xl" style="left:781px">21</div><div class="xl" style="left:840px">12:00</div><div class="xl" style="left:900px">22</div><div class="xl" style="left:960px">12:00</div>
<div id="tag">0.64854</div>
<div id="title">AUDUSD, H1</div>
<div id="logo-t">fin<b>logix</b></div>
<div id="logo-c">方<b>计</b></div>
</body></html>
